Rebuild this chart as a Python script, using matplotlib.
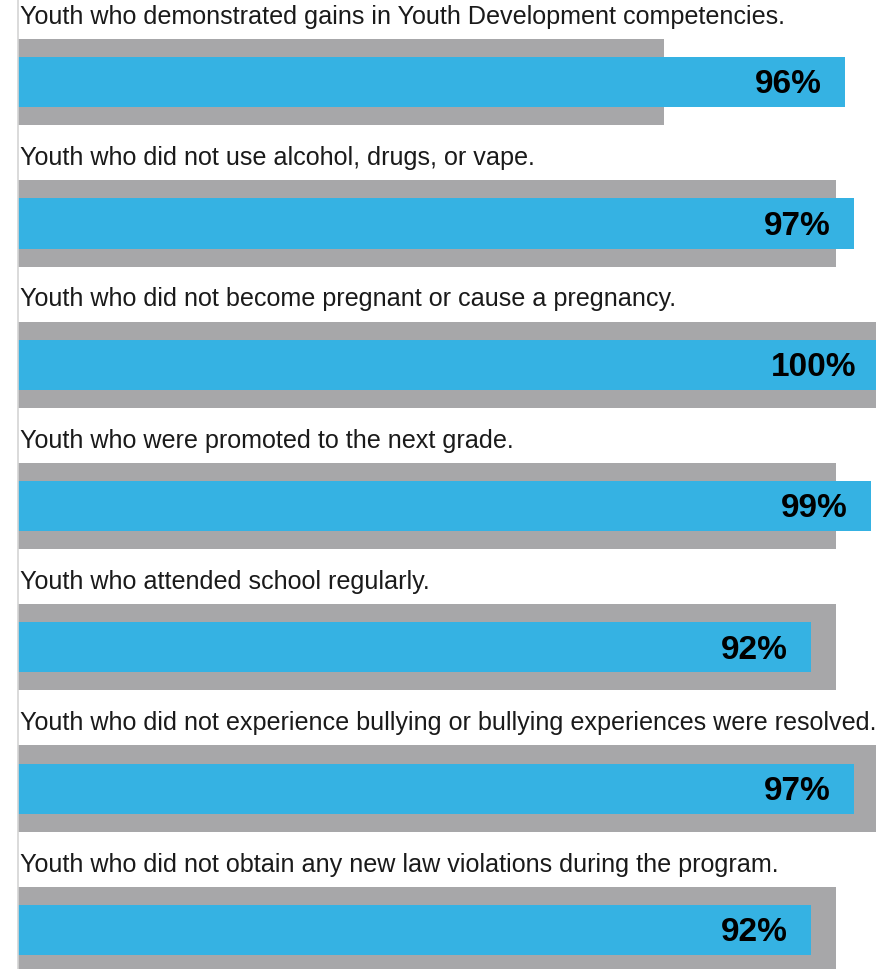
import matplotlib
matplotlib.use("Agg")
import matplotlib.pyplot as plt

# Outcome indicators, in display order (top to bottom)
labels = [
    "Youth who demonstrated gains in Youth Development competencies.",
    "Youth who did not use alcohol, drugs, or vape.",
    "Youth who did not become pregnant or cause a pregnancy.",
    "Youth who were promoted to the next grade.",
    "Youth who attended school regularly.",
    "Youth who did not experience bullying or bullying experiences were resolved.",
    "Youth who did not obtain any new law violations during the program.",
]
actual = [96, 97, 100, 99, 92, 97, 92]     # achieved percentage
target = [75, 95, 100, 95, 95, 100, 95]    # goal percentage

BLUE = "#35B2E3"
GRAY = "#A7A7A9"

plt.rcParams["font.family"] = ["Liberation Sans", "DejaVu Sans"]

fig = plt.figure(figsize=(8.93, 9.69), dpi=100)
ax = fig.add_axes([18 / 893, 0, (876 - 18) / 893, 1])

y = list(range(len(labels)))
ax.barh(y, target, height=0.61, color=GRAY, zorder=1)
ax.barh(y, actual, height=0.355, color=BLUE, zorder=2)

for yi, lab, val in zip(y, labels, actual):
    ax.text(0.002, yi - 0.413, lab, transform=ax.get_yaxis_transform(),
            ha="left", va="baseline", fontsize=18.1, color="#1a1a1a")
    ax.annotate(f"{val}%", xy=(val, yi + 0.08), xytext=(-16.5, 0),
                textcoords="offset points", ha="right", va="baseline",
                fontsize=24, fontweight="bold", color="black",
                annotation_clip=False, zorder=3)

ax.set_xlim(0, 99.6)
ax.set_ylim(6.277, -0.5816)
ax.set_xticks([])
ax.set_yticks([])
for side in ("top", "right", "bottom"):
    ax.spines[side].set_visible(False)
ax.spines["left"].set_color("#D4D4D4")
ax.spines["left"].set_linewidth(1.2)

fig.savefig("out.png", dpi=100)
